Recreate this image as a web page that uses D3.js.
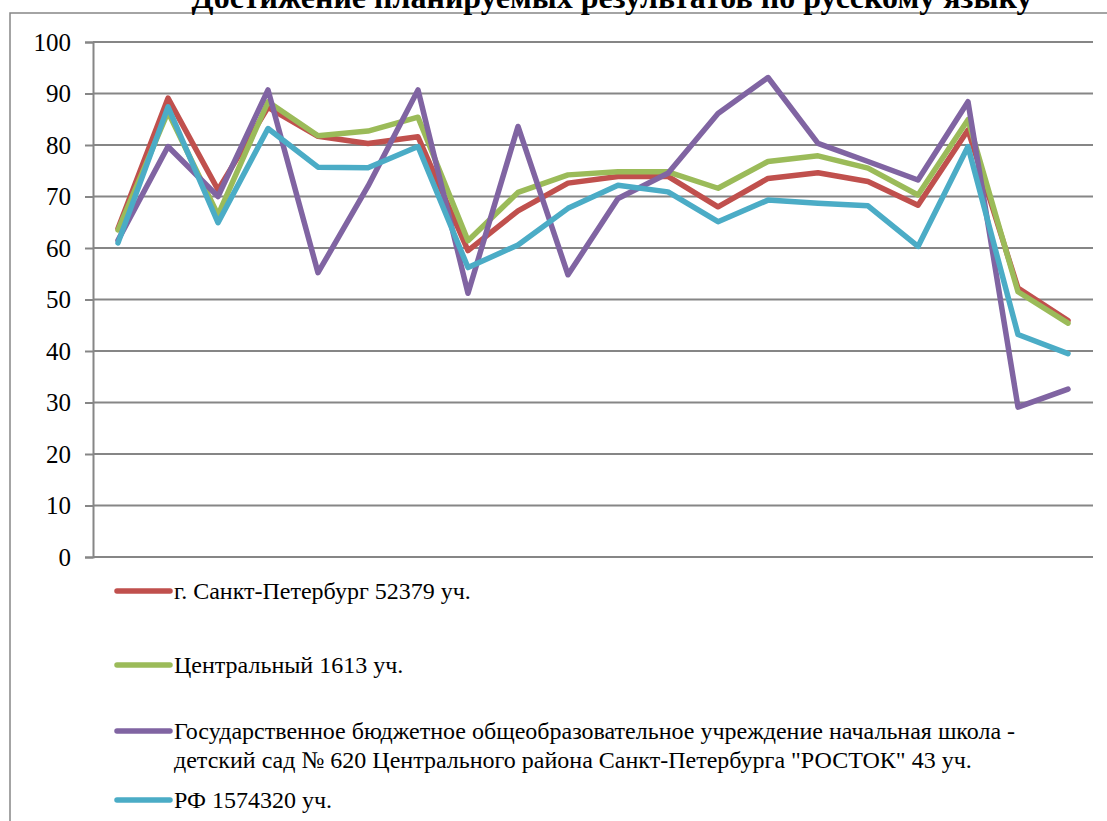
<!DOCTYPE html>
<html>
<head>
<meta charset="utf-8">
<script src="https://cdn.jsdelivr.net/npm/d3@7"></script>
<style>
  html, body { margin: 0; padding: 0; background: #fff; }
  svg { display: block; font-family: "Liberation Serif", "Times New Roman", serif; }
  svg text { font-family: "Liberation Serif", "Times New Roman", serif; fill: #000; }
</style>
</head>
<body>
<svg id="chart" width="1107" height="821"></svg>
<script>
const title = "Достижение планируемых результатов по русскому языку";
const categories = d3.range(1, 21).map(String);
const yTicks = [0, 10, 20, 30, 40, 50, 60, 70, 80, 90, 100];

const seriesNames = [
  "г. Санкт-Петербург 52379 уч.",
  "Центральный 1613 уч.",
  "Государственное бюджетное общеобразовательное учреждение начальная школа - детский сад № 620 Центрального района Санкт-Петербурга \"РОСТОК\" 43 уч.",
  "РФ 1574320 уч."
];
const spb = [63.8, 89.1, 71.3, 87.3, 81.7, 80.3, 81.6, 59.5, 67.2, 72.6, 73.9, 73.9, 68.0, 73.5, 74.6, 72.9, 68.3, 82.9, 52.2, 45.9];
const central = [63.5, 86.4, 66.4, 88.4, 81.8, 82.7, 85.4, 61.4, 70.8, 74.2, 74.8, 74.8, 71.6, 76.8, 77.9, 75.5, 70.3, 84.9, 51.5, 45.4];
const school = [61.5, 79.7, 70.0, 90.7, 55.2, 72.0, 90.7, 51.2, 83.6, 54.8, 69.6, 74.5, 86.1, 93.1, 80.3, 76.8, 73.2, 88.4, 29.1, 32.6];
const rf = [61.0, 87.4, 64.9, 83.2, 75.7, 75.6, 79.7, 56.2, 60.6, 67.7, 72.2, 70.9, 65.1, 69.3, 68.7, 68.2, 60.3, 79.7, 43.2, 39.5];
const colors = ["#C0504D", "#9BBB59", "#8064A2", "#4BACC6"];

const series = [spb, central, school, rf].map((vals, i) => ({ name: seriesNames[i], values: vals, color: colors[i] }));

const svg = d3.select("#chart");
const plot = { left: 93, right: 1093, top: 42, bottom: 557 };

// chart border
svg.append("rect").attr("x", 10).attr("y", 13).attr("width", 1120).attr("height", 840)
  .attr("fill", "none").attr("stroke", "#868686").attr("stroke-width", 1.5);

// title
svg.append("text").attr("x", 612).attr("y", 8).attr("text-anchor", "middle")
  .attr("font-size", 32).attr("font-weight", "bold").text(title);

const x = d3.scaleBand().domain(categories).range([plot.left, plot.right]);
const y = d3.scaleLinear().domain([0, 100]).range([plot.bottom, plot.top]);

// gridlines
svg.append("g").selectAll("line").data(yTicks).join("line")
  .attr("x1", plot.left).attr("x2", plot.right)
  .attr("y1", d => y(d)).attr("y2", d => y(d))
  .attr("stroke", "#868686").attr("stroke-width", 2);

// y axis
const yAxis = d3.axisLeft(y).tickValues(yTicks).tickSize(8).tickPadding(14);
const ga = svg.append("g").attr("transform", `translate(${plot.left},0)`).call(yAxis)
  .attr("font-family", null);
ga.select(".domain").attr("stroke", "#868686").attr("stroke-width", 2);
ga.selectAll(".tick line").attr("stroke", "#868686").attr("stroke-width", 2);
ga.selectAll(".tick text").attr("font-size", 25).attr("fill", "#000");

// lines
const line = d3.line().x((d, i) => x(categories[i]) + x.bandwidth() / 2).y(d => y(d));
svg.append("g").selectAll("path").data(series).join("path")
  .attr("d", d => line(d.values))
  .attr("fill", "none").attr("stroke", d => d.color).attr("stroke-width", 5.5)
  .attr("stroke-linejoin", "round").attr("stroke-linecap", "round");

// legend
const legendY = [591, 665, 731, 800];
const lg = svg.append("g");
series.forEach((s, i) => {
  const g = lg.append("g");
  g.append("line").attr("x1", 117).attr("x2", 170).attr("y1", legendY[i]).attr("y2", legendY[i])
    .attr("stroke", s.color).attr("stroke-width", 5.5).attr("stroke-linecap", "round");
  const t = g.append("text").attr("x", 174).attr("y", legendY[i] + 8).attr("font-size", 24);
  if (i === 2) {
    const splitAt = s.name.indexOf("- детский");
    t.append("tspan").attr("x", 174).text(s.name.slice(0, splitAt + 1));
    t.append("tspan").attr("x", 174).attr("dy", 29).text(s.name.slice(splitAt + 2));
  } else {
    t.text(s.name);
  }
});
</script>
</body>
</html>
